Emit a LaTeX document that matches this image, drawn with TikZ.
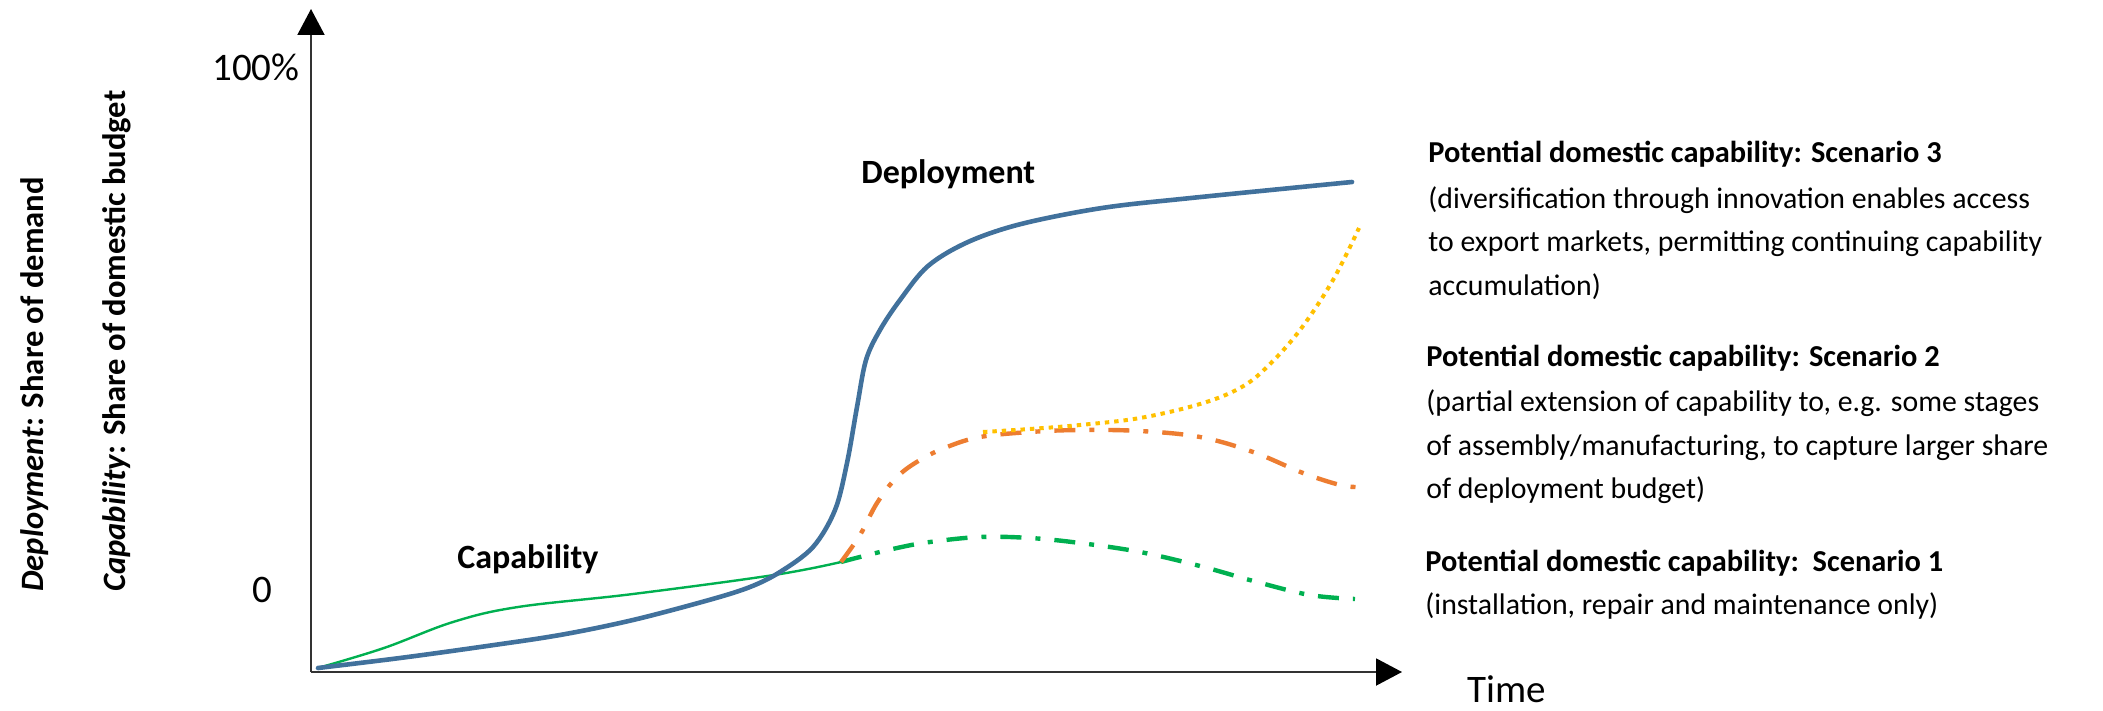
\documentclass[tikz,border=0pt]{standalone}
\usepackage{fontspec}
\setmainfont{Carlito}
\usetikzlibrary{arrows.meta}
\definecolor{cblue}{RGB}{65,113,156}
\definecolor{cgreen}{RGB}{0,176,80}
\definecolor{corange}{RGB}{237,125,49}
\definecolor{cyellow}{RGB}{255,192,0}
\tikzset{
  axisline/.style={line width=1pt, black!80, -{Triangle[length=13pt,width=13.5pt,color=black]}},
  deploycurve/.style={line width=2.3pt, cblue, line cap=round},
  capsolid/.style={line width=1.2pt, cgreen, line cap=round},
  scenone/.style={line width=2.2pt, cgreen, dash pattern=on 10.5pt off 7pt on 2.5pt off 7pt},
  scentwo/.style={line width=2.2pt, corange, dash pattern=on 10.5pt off 7pt on 2.5pt off 7pt},
  scenthree/.style={line width=2pt, cyellow, dash pattern=on 2.2pt off 2.5pt},
  axnum/.style={inner sep=0pt, font=\fontsize{19.5}{22}\selectfont},
  curvelabel/.style={inner sep=0pt, anchor=base west, font=\fontsize{17}{20}\selectfont\bfseries},
  ylabel/.style={inner sep=0pt, anchor=base west, rotate=90, font=\fontsize{16.3}{19}\selectfont\bfseries},
  sctitle/.style={inner sep=0pt, anchor=base west, font=\fontsize{15.2}{17}\selectfont\bfseries},
  sctext/.style={inner sep=0pt, anchor=base west, font=\fontsize{14.9}{17}\selectfont},
}
\begin{document}
\begin{tikzpicture}[x=0.5pt,y=-0.5pt]
\useasboundingbox (0,0) rectangle (2103,711);
% axes
\coordinate (O) at (311,672);
\coordinate (ytip) at (311,9);
\coordinate (xtip) at (1402,672);
\draw[axisline] (O) -- (ytip);
\draw[axisline] (O) -- (xtip);
% branch points
\coordinate (start) at (318,668);
\coordinate (branch) at (841,562);
\coordinate (ybranch) at (983,432);
% capability solid
\draw[capsolid] plot[smooth, tension=0.6] coordinates {(318,668) (384,648) (453,622) (518,607) (633,594) (774,575) (841,562)};
% deployment
\draw[deploycurve] plot[smooth, tension=0.55] coordinates {(318,668) (400,658) (480,647) (560,635) (633,620) (709,600) (750,587) (780,572) (813,547) (835,510) (847,463) (857,407) (866,360) (880,330) (900,300) (928,266) (968,242) (1021,224) (1102,208) (1191,198) (1352,182)};
% scenario 1
\draw[scenone] plot[smooth, tension=0.6] coordinates {(841,562) (860,557) (897,548) (930,542) (980,537) (1030,538) (1080,543) (1140,552) (1200,566) (1257,582) (1310,595) (1355,599)};
% scenario 2
\draw[scentwo] plot[smooth, tension=0.6] coordinates {(841,562) (860,535) (877,503) (897,477) (920,460) (947,447) (980,437) (1030,432) (1080,430) (1140,431) (1200,437) (1253,452) (1303,473) (1340,485) (1357,487)};
% scenario 3
\draw[scenthree] plot[smooth, tension=0.6] coordinates {(983,432) (1030,429) (1080,425) (1140,418) (1200,404) (1240,388) (1267,367) (1300,330) (1333,280) (1359,228)};
% axis labels
\node[axnum, anchor=base east] (hundred) at (300,81) {100\%};
\node[axnum, anchor=base east] (zero) at (273,602) {0};
\node[axnum, anchor=base west] (time) at (1467,702) {Time};
\node[ylabel] (ydep) at (43,592) {\textit{Deployment}: Share of demand};
\node[ylabel] (ycap) at (125,592) {\textit{Capability}: Share of domestic budget};
% curve labels
\node[curvelabel] (lcap) at (457,568) {Capability};
\node[curvelabel] (ldep) at (861,184) {Deployment};
% scenario texts
\node[sctitle] (s3t) at (1428,163) {Potential domestic capability: Scenario 3};
\node[sctext] (s3a) at (1428,209) {(diversification through innovation enables access};
\node[sctext] (s3b) at (1428,252) {to export markets, permitting continuing capability};
\node[sctext] (s3c) at (1428,295) {accumulation)};
\node[sctitle] (s2t) at (1426,366) {Potential domestic capability: Scenario 2};
\node[sctext] (s2a) at (1426,411) {(partial extension of capability to, e.g. some stages};
\node[sctext] (s2b) at (1426,455) {of assembly/manufacturing, to capture larger share};
\node[sctext] (s2c) at (1426,498) {of deployment budget)};
\node[sctitle] (s1t) at (1425,571) {Potential domestic capability:\ \ Scenario 1};
\node[sctext] (s1a) at (1425,614) {(installation, repair and maintenance only)};
\end{tikzpicture}
\end{document}
